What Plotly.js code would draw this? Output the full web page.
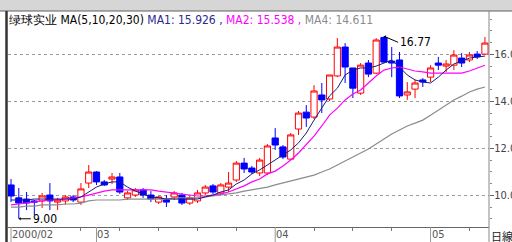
<!DOCTYPE html>
<html><head><meta charset="utf-8">
<script src="https://cdn.plot.ly/plotly-3.0.1.min.js"></script>
<style>html,body{margin:0;padding:0;background:#fff;}#chart{width:512px;height:242px;}</style>
</head><body><div id="chart"></div>
<script>
// OHLC per trading day (Feb–May 2000)
const opens  = [10.44,9.89,9.84,9.76,9.76,10.01,9.71,9.76,9.93,9.71,10.52,10.99,10.57,10.69,10.78,9.89,10.01,10.23,10.01,9.71,9.80,9.93,10.01,9.67,9.76,10.10,10.40,10.10,10.35,10.65,11.37,11.16,10.95,10.95,12.44,12.06,11.54,12.82,13.54,13.33,14.27,14.10,15.08,16.31,15.42,14.35,15.63,15.20,16.72,15.71,15.76,14.27,14.52,14.91,15.03,15.63,15.50,15.54,15.84,15.76,16.01,16.01];
const highs  = [10.69,10.31,10.14,9.80,10.10,10.52,9.89,10.01,10.01,10.52,11.29,11.03,10.65,10.95,10.95,10.18,10.31,10.31,10.18,9.97,10.01,10.18,10.10,9.97,10.23,10.44,10.48,10.52,10.99,11.46,11.59,11.25,11.59,12.18,12.86,12.14,12.65,13.59,13.84,14.69,14.78,15.12,16.69,16.48,15.42,15.63,15.76,16.69,16.77,16.31,16.10,14.82,14.91,14.99,15.54,15.89,15.76,16.18,16.05,16.10,16.14,16.74];
const lows   = [9.71,9.00,9.37,9.16,9.46,9.37,9.37,9.59,9.71,9.59,10.31,10.44,10.40,10.48,10.06,9.80,9.93,9.89,9.71,9.63,9.50,9.80,9.59,9.59,9.67,10.01,10.06,10.01,10.14,10.57,10.95,10.91,10.82,10.86,11.93,11.54,11.50,12.57,12.91,13.25,13.50,14.01,15.03,14.78,14.14,14.27,15.03,15.16,15.63,15.03,14.14,14.06,14.14,14.61,14.82,15.33,15.25,15.33,15.46,15.67,15.80,15.97];
const closes = [9.97,9.67,9.67,9.71,9.97,9.76,9.80,9.93,9.80,10.27,10.99,10.57,10.44,10.78,10.14,10.10,10.23,10.01,9.84,9.93,9.71,10.10,9.67,9.89,10.10,10.35,10.14,10.44,10.52,11.37,11.12,10.99,11.50,12.10,12.14,11.63,12.57,13.50,13.29,14.44,14.06,15.12,16.31,15.46,14.56,15.54,15.16,16.61,15.67,15.63,14.23,14.40,14.78,14.82,15.42,15.54,15.59,15.97,15.63,15.97,15.89,16.48];
// moving averages
const ma1 = [9.80,9.80,9.80,9.84,9.84,9.84,9.84,9.84,9.84,9.93,10.14,10.35,10.48,10.57,10.57,10.35,10.18,10.06,9.93,9.89,9.84,9.84,9.84,9.84,9.84,9.93,10.01,10.14,10.23,10.48,10.65,10.91,11.08,11.29,11.50,11.71,11.93,12.23,12.65,13.20,13.71,14.23,14.56,15.12,15.33,15.42,15.42,15.50,15.63,15.76,15.46,15.12,14.91,14.82,14.78,15.03,15.33,15.59,15.71,15.84,15.89,15.926];
const ma2 = [9.59,9.63,9.67,9.71,9.76,9.80,9.80,9.84,9.89,9.93,10.01,10.10,10.18,10.23,10.23,10.23,10.23,10.23,10.23,10.18,10.14,10.10,10.06,10.01,9.97,9.97,10.01,10.06,10.14,10.27,10.40,10.57,10.69,10.91,11.03,11.25,11.50,11.80,12.14,12.52,12.95,13.41,13.71,14.06,14.31,14.48,14.78,15.08,15.33,15.42,15.46,15.37,15.29,15.25,15.20,15.20,15.20,15.20,15.20,15.29,15.42,15.538];
const ma4 = [9.50,9.50,9.54,9.54,9.59,9.59,9.59,9.63,9.63,9.67,9.76,9.80,9.80,9.80,9.80,9.84,9.84,9.84,9.84,9.84,9.84,9.89,9.89,9.89,9.89,9.93,9.97,10.01,10.06,10.10,10.18,10.23,10.27,10.35,10.44,10.52,10.61,10.69,10.78,10.86,10.99,11.12,11.29,11.46,11.63,11.80,11.97,12.18,12.40,12.61,12.78,12.95,13.07,13.20,13.41,13.63,13.84,14.06,14.22,14.40,14.52,14.611];
// axis labels / ticks (day index based)
const minorTickDays = [9,14,19,24,29,39,44,49,59];
const monthDays = [0,11,34,54];
const monthLabels = ['2000/02','03','04','05'];
const priceTicks = [10,12,14,16];
const priceLabels = ['10.00','12.00','14.00','16.00'];
const highDay = 48, highValue = 16.77, lowDay = 1, lowValue = 9.00;
const stockName = '绿球实业';

const dayIdx = opens.map((_, i) => i);
const FONT = '"Liberation Sans Narrow","DejaVu Sans Condensed","Liberation Sans",sans-serif';

const traces = [
  {type:'candlestick', x:dayIdx, open:opens, high:highs, low:lows, close:closes,
   increasing:{line:{color:'#ff0000',width:1}, fillcolor:'#ffffff'},
   decreasing:{line:{color:'#0000ff',width:1}, fillcolor:'#0000ff'},
   whiskerwidth:0, hoverinfo:'skip', showlegend:false},
  {type:'scatter', mode:'lines', x:dayIdx, y:ma4, line:{color:'#8c8c8c',width:1.2}, hoverinfo:'skip', showlegend:false},
  {type:'scatter', mode:'lines', x:dayIdx, y:ma2, line:{color:'#ff00ff',width:1.2}, hoverinfo:'skip', showlegend:false},
  {type:'scatter', mode:'lines', x:dayIdx, y:ma1, line:{color:'#1a1a7a',width:1}, hoverinfo:'skip', showlegend:false}
];

const shapes = [
  {type:'rect', xref:'paper', yref:'paper', x0:-0.05, x1:1.1, y0:1+2/214, y1:1+14/214, fillcolor:'#d6d6d6', line:{width:0}, layer:'below'},
  {type:'line', xref:'paper', yref:'paper', x0:-0.05, x1:1.1, y0:1+2/214, y1:1+2/214, line:{color:'#606060',width:1}},
  {type:'line', xref:'paper', yref:'paper', x0:-1.5/481, x1:-1.5/481, y0:-0.08, y1:1+2/214, line:{color:'#333333',width:2.5}},
  {type:'line', xref:'paper', yref:'paper', x0:1, x1:1, y0:-0.08, y1:1+2/214, line:{color:'#888888',width:1}}
];
monthDays.forEach(d => shapes.push({type:'line', xref:'x', yref:'paper', x0:d, x1:d, y0:0, y1:-0.075, line:{color:'#999999',width:1}}));

const annotations = [
  {xref:'paper', yref:'paper', x:0, y:1, xanchor:'left', yanchor:'top', showarrow:false, borderpad:0, yshift:1,
   font:{family:FONT, size:12, color:'#000'},
   text: stockName + ' MA(5,10,20,30) <span style="color:#2a2a90">MA1: ' + ma1[ma1.length-1].toFixed(3) + ' ,</span> <span style="color:#ff00ff">MA2: ' + ma2[ma2.length-1].toFixed(3) + ' ,</span> <span style="color:#8c8c8c">MA4: ' + ma4[ma4.length-1].toFixed(3) + '</span>'},
  {x:highDay, y:highValue, text:highValue.toFixed(2), showarrow:true, ax:14, ay:6, xanchor:'left', yanchor:'middle', arrowhead:1, arrowsize:0.6, arrowwidth:1, arrowcolor:'#000', standoff:0, font:{family:FONT,size:12,color:'#000'}},
  {x:lowDay, y:lowValue, text:lowValue.toFixed(2), showarrow:true, ax:12, ay:0, xanchor:'left', yanchor:'middle', arrowhead:1, arrowsize:0.6, arrowwidth:1, arrowcolor:'#000', standoff:0, font:{family:FONT,size:12,color:'#000'}},
  {xref:'paper', yref:'paper', x:1, y:0, xanchor:'left', yanchor:'top', showarrow:false, borderpad:0, xshift:1, text:'日線', font:{family:'"Noto Sans CJK JP",sans-serif', size:11, color:'#222'}}
];
monthDays.forEach((d, i) => annotations.push({x:d, y:0, xref:'x', yref:'paper', xanchor:'left', yanchor:'top', xshift:0, showarrow:false, borderpad:0, text:monthLabels[i], font:{family:FONT,size:11,color:'#555'}}));

const layout = {
  width:512, height:242,
  margin:{l:8, r:23, t:13, b:15, pad:0},
  paper_bgcolor:'#ffffff', plot_bgcolor:'#ffffff',
  showlegend:false, boxgap:0.2, boxgroupgap:0,
  xaxis:{range:[-0.39,61.52], rangeslider:{visible:false}, showgrid:false, zeroline:false,
         showline:true, linecolor:'#666666', linewidth:1,
         tickmode:'array', tickvals:minorTickDays, ticktext:minorTickDays.map(()=>''), ticks:'outside', ticklen:3, tickcolor:'#777', fixedrange:true},
  yaxis:{side:'right', range:[8.65,17.76], tickmode:'array', tickvals:priceTicks, ticktext:priceLabels,
         ticks:'outside', ticklen:4, tickcolor:'#666', showline:false, zeroline:false,
         showgrid:true, gridcolor:'#9a9a9a', griddash:'dot', gridwidth:1,
         tickfont:{family:FONT, size:11, color:'#444'}, ticklabelstandoff:-2,
         minor:{tickvals:[9,9.5,10.5,11,11.5,12.5,13,13.5,14.5,15,15.5,16.5,17,17.5], ticks:'outside', ticklen:2, tickcolor:'#888', showgrid:false},
         fixedrange:true},
  shapes:shapes, annotations:annotations
};
Plotly.newPlot('chart', traces, layout, {staticPlot:true, displayModeBar:false});
</script></body></html>
